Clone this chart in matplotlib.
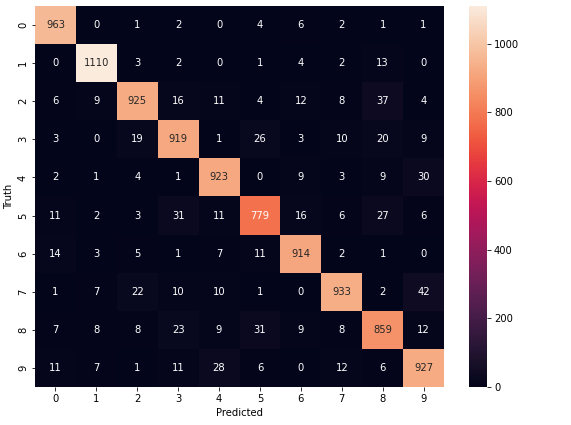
import matplotlib
matplotlib.use("Agg")
import matplotlib.pyplot as plt
import numpy as np
import seaborn as sns

# confusion matrix (rows: truth, cols: predicted)
labels = [0, 1, 2, 3, 4, 5, 6, 7, 8, 9]
row0 = [963, 0, 1, 2, 0, 4, 6, 2, 1, 1]
row1 = [0, 1110, 3, 2, 0, 1, 4, 2, 13, 0]
row2 = [6, 9, 925, 16, 11, 4, 12, 8, 37, 4]
row3 = [3, 0, 19, 919, 1, 26, 3, 10, 20, 9]
row4 = [2, 1, 4, 1, 923, 0, 9, 3, 9, 30]
row5 = [11, 2, 3, 31, 11, 779, 16, 6, 27, 6]
row6 = [14, 3, 5, 1, 7, 11, 914, 2, 1, 0]
row7 = [1, 7, 22, 10, 10, 1, 0, 933, 2, 42]
row8 = [7, 8, 8, 23, 9, 31, 9, 8, 859, 12]
row9 = [11, 7, 1, 11, 28, 6, 0, 12, 6, 927]

cm = np.array([row0, row1, row2, row3, row4, row5, row6, row7, row8, row9])

fig = plt.figure(figsize=(571 / 72, 425 / 72), dpi=72)
ax = fig.add_axes([0.0613, 0.0894, 0.7163, 0.8965])
cax = fig.add_axes([0.8214, 0.0894, 0.0315, 0.8965])

sns.heatmap(cm, annot=True, fmt='d', ax=ax, cbar_ax=cax,
            xticklabels=labels, yticklabels=labels)
ax.set_xlabel('Predicted')
ax.set_ylabel('Truth')

fig.savefig('out.png', dpi=72)
